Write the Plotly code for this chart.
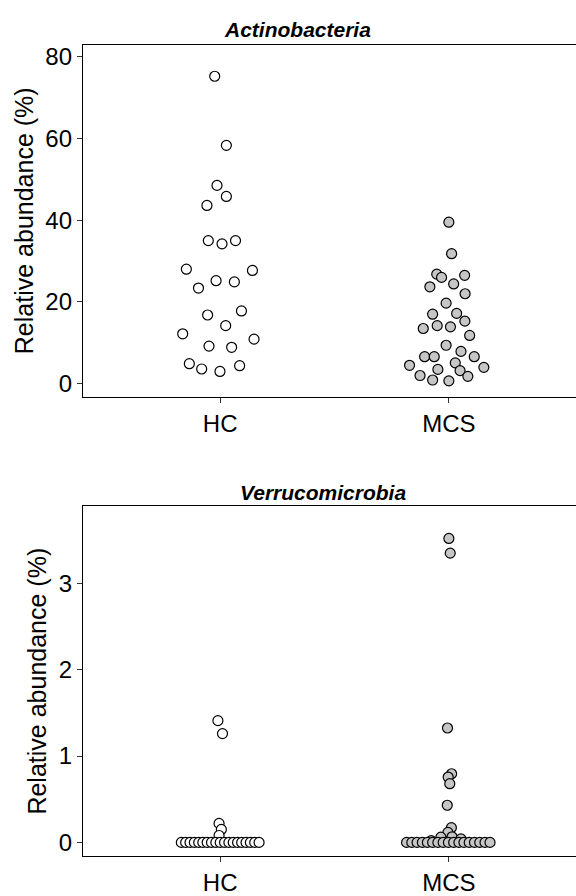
import plotly.graph_objects as go

# ---------------- data ----------------
groups = ["HC", "MCS"]

# Actinobacteria (%)
actino_hc = [75.2, 58.3, 48.5, 45.8, 43.6, 35.0, 34.2, 35.0, 28.0, 27.7, 25.2, 24.9,
             23.4, 16.8, 17.8, 14.2, 12.2, 10.9, 9.2, 8.9, 4.9, 3.6, 4.4, 3.0]
actino_hc_jit = [-0.024, 0.027, -0.014, 0.027, -0.058, -0.052, 0.008, 0.067, -0.148, 0.141,
                 -0.018, 0.062, -0.095, -0.055, 0.093, 0.024, -0.164, 0.148, -0.049, 0.050,
                 -0.135, -0.081, 0.085, -0.001]
actino_mcs = [39.5, 31.8, 26.8, 26.0, 26.5, 23.7, 24.4, 22.0, 19.7, 17.0, 17.2, 15.3,
              14.2, 13.5, 13.9, 11.8, 9.4, 7.9, 6.6, 6.6, 6.6, 4.5, 5.1, 4.0, 3.5, 3.2,
              2.0, 1.8, 0.9, 0.7]
actino_mcs_jit = [0.0, 0.012, -0.053, -0.032, 0.069, -0.083, 0.021, 0.071, -0.012, -0.071,
                  0.034, 0.070, -0.051, -0.112, 0.007, 0.091, -0.012, 0.053, -0.106, -0.064,
                  0.111, -0.172, 0.028, 0.153, -0.048, 0.049, -0.126, 0.083, -0.071, 0.0]

# Verrucomicrobia (%)
verru_hc = [1.41, 1.26, 0.22, 0.15, 0.08] + [0.0] * 19
verru_hc_jit = [-0.010, 0.010, -0.005, 0.005, -0.005,
                -0.170, -0.151, -0.132, -0.113, -0.094, -0.076, -0.057, -0.038, -0.019, 0.0,
                0.019, 0.038, 0.057, 0.076, 0.094, 0.113, 0.132, 0.151, 0.170]
verru_mcs = [3.52, 3.35, 1.325, 0.795, 0.757, 0.68, 0.43, 0.17, 0.115, 0.065, 0.06, 0.04,
             0.02] + [0.0] * 17
verru_mcs_jit = [0.0, 0.006, -0.006, 0.012, -0.003, 0.004, -0.007, 0.011, -0.004, 0.014,
                 -0.035, 0.053, -0.077,
                 -0.185, -0.162, -0.139, -0.116, -0.094, -0.071, -0.048, -0.025, -0.002,
                 0.021, 0.044, 0.066, 0.089, 0.112, 0.135, 0.158, 0.180]

titles = ["Actinobacteria", "Verrucomicrobia"]
ytitle = "Relative abundance (%)"
top_ticks = [0, 20, 40, 60, 80]
bot_ticks = [0, 1, 2, 3]

# ---------------- figure ----------------
W, H = 576, 896
FONT = "Liberation Sans, Arial, Helvetica, sans-serif"
fills = {"HC": "#FFFFFF", "MCS": "#C6C6C6"}

fig = go.Figure()

def add_group(vals, jit, gi, name, xa, ya):
    fig.add_trace(go.Scatter(
        x=[gi + 1 + j for j in jit], y=vals, mode="markers",
        marker=dict(size=10, color=fills[name], line=dict(color="#000000", width=1.2)),
        xaxis=xa, yaxis=ya, showlegend=False, cliponaxis=False))

add_group(actino_hc, actino_hc_jit, 0, "HC", "x", "y")
add_group(actino_mcs, actino_mcs_jit, 1, "MCS", "x", "y")
add_group(verru_hc, verru_hc_jit, 0, "HC", "x2", "y2")
add_group(verru_mcs, verru_mcs_jit, 1, "MCS", "x2", "y2")

L = 83
def ydom(top_px, bot_px):
    return [1 - bot_px / H, 1 - top_px / H]

xcommon = dict(range=[0.4, 2.556], tickvals=[1, 2], ticktext=groups,
               showline=True, linecolor="#000000", linewidth=1.3, mirror=True,
               ticks="outside", ticklen=5, tickwidth=1.2, tickcolor="#333333",
               showgrid=False, zeroline=False,
               tickfont=dict(family=FONT, size=24, color="#000000"))
ycommon = dict(showline=True, linecolor="#000000", linewidth=1.3, mirror=False,
               ticks="outside", ticklen=5, tickwidth=1.2, tickcolor="#333333",
               showgrid=False, zeroline=False,
               tickfont=dict(family=FONT, size=24, color="#000000"),
               title=dict(text=ytitle, font=dict(family=FONT, size=25, color="#000000"),
                          standoff=4))

fig.update_layout(
    width=W, height=H,
    margin=dict(l=L, r=0, t=0, b=0),
    paper_bgcolor="white", plot_bgcolor="white",
    xaxis=dict(domain=[0, 1], anchor="y", **xcommon),
    yaxis=dict(domain=ydom(43, 397), anchor="x", range=[-3.2, 82.9],
               tickvals=top_ticks, **ycommon),
    xaxis2=dict(domain=[0, 1], anchor="y2", **xcommon),
    yaxis2=dict(domain=ydom(507, 859), anchor="x2", range=[-0.16, 3.894],
                tickvals=bot_ticks, **ycommon),
)

# panel titles
for t, xc, yc in [(titles[0], 297, 28), (titles[1], 323, 493)]:
    fig.add_annotation(text="<b><i>" + t + "</i></b>", xref="paper", yref="paper",
                       x=(xc - L) / (W - L), y=1 - yc / H, xanchor="center", yanchor="middle",
                       showarrow=False, font=dict(family=FONT, size=21, color="#000000"))

fig.write_html("out.html")
